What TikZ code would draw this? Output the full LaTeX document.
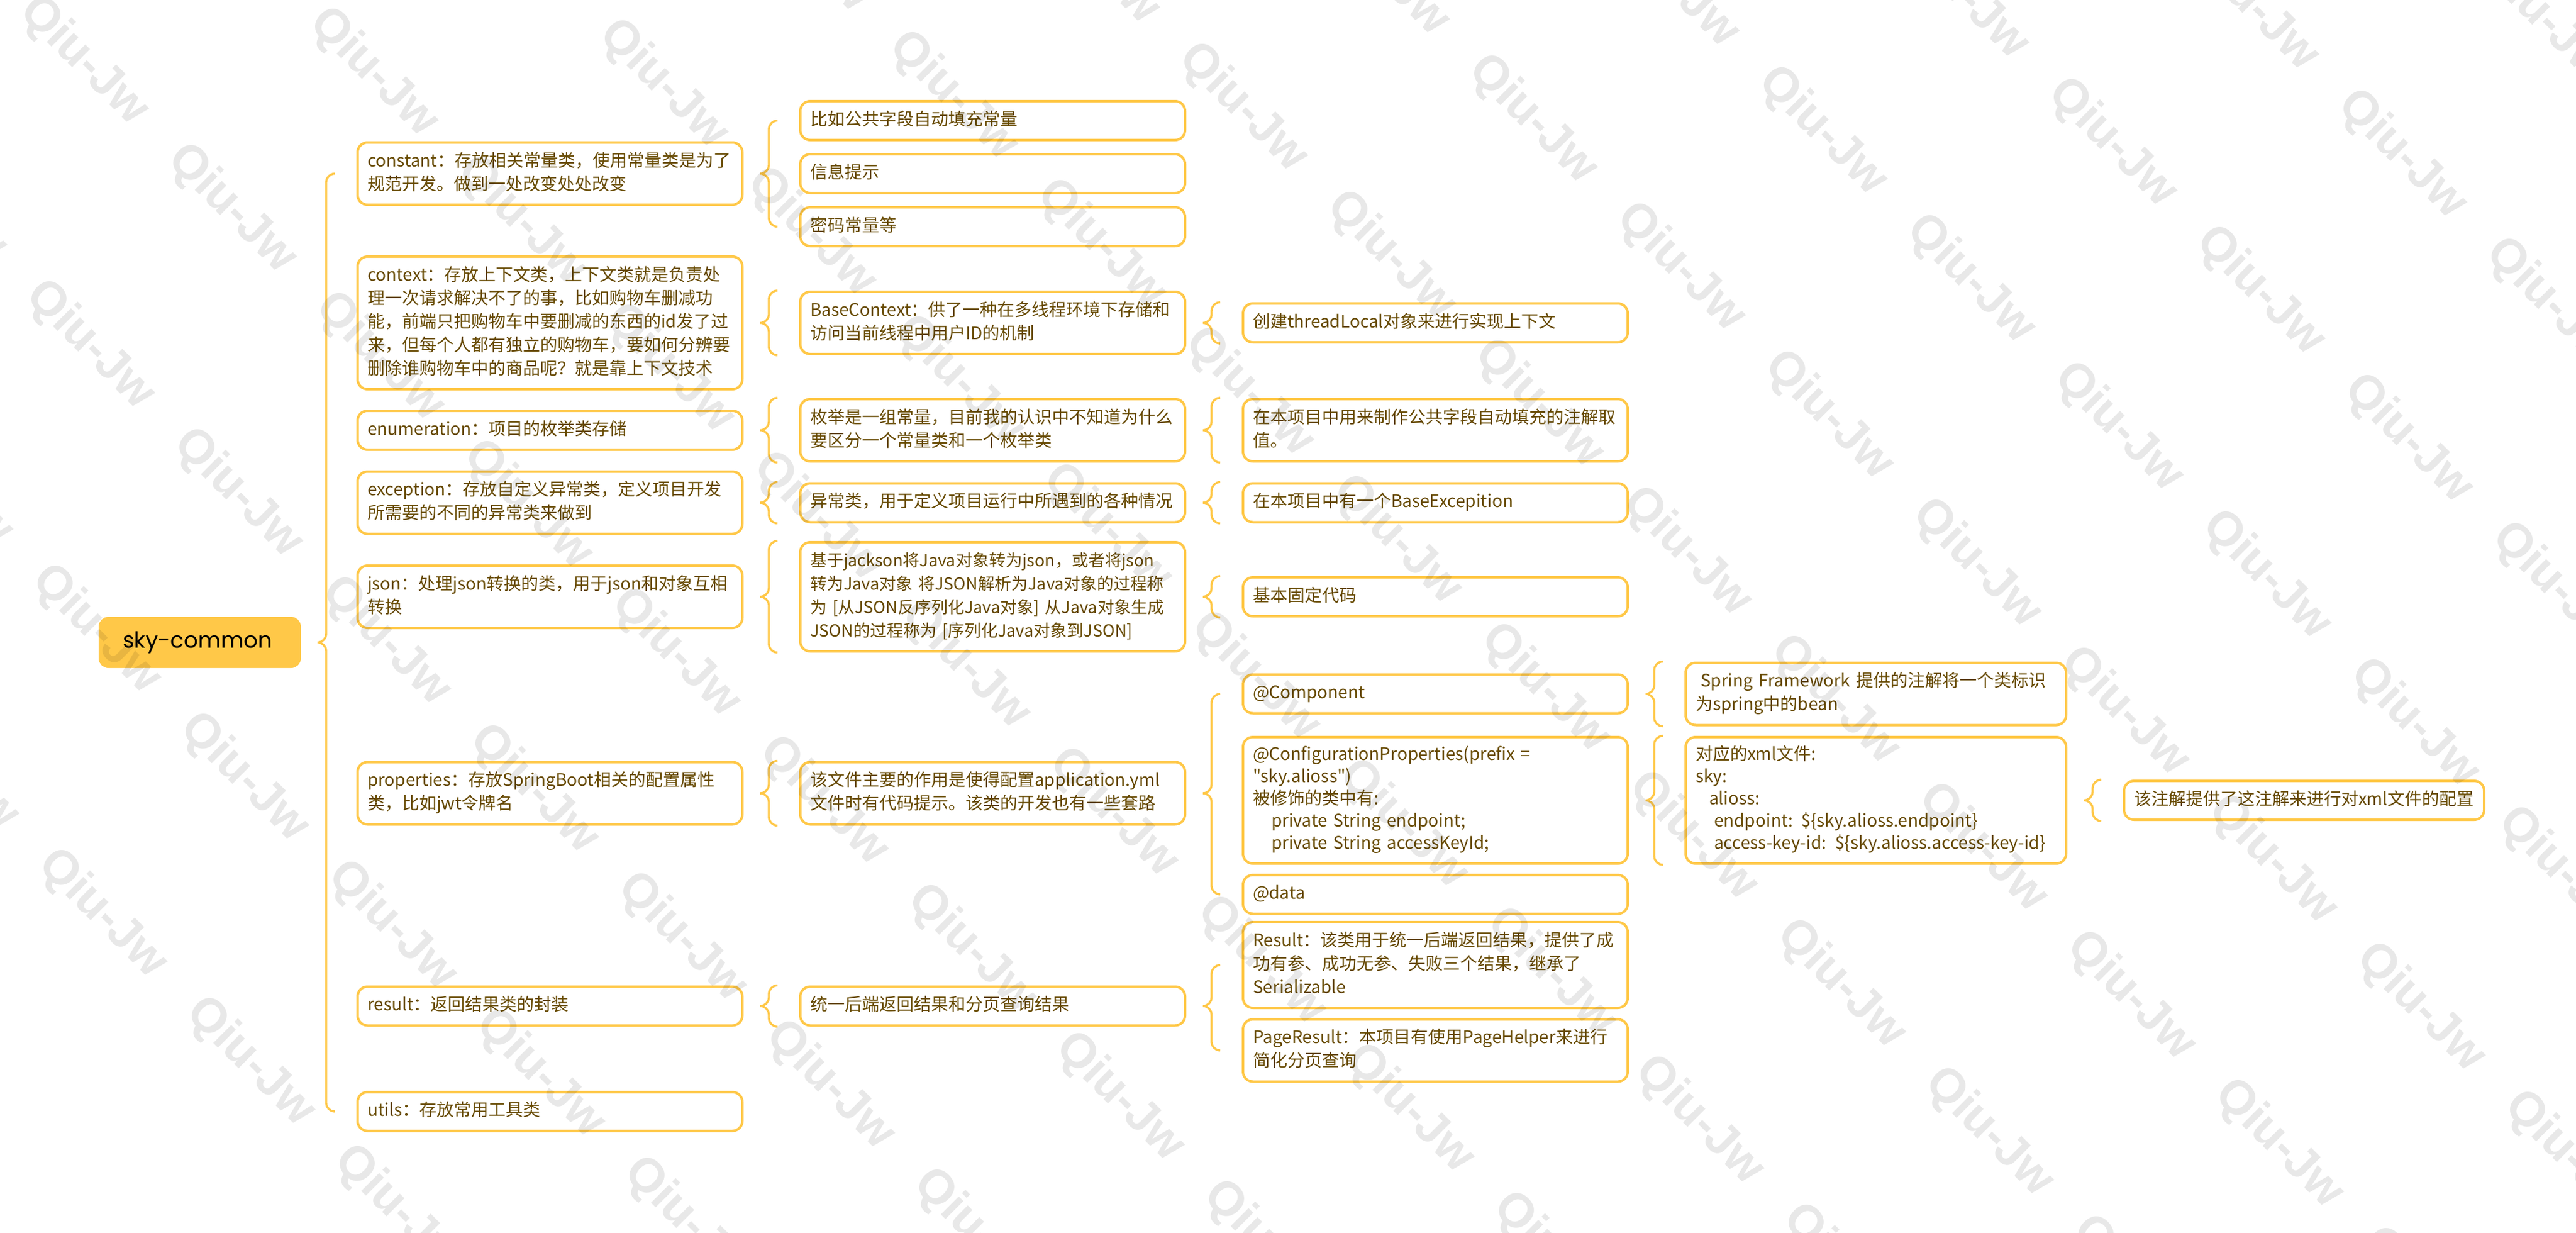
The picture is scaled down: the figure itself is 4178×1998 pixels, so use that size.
\documentclass[tikz,border=0pt]{standalone}
\usepackage{fontspec}
\setmainfont{Noto Sans CJK SC}[Ligatures=TeXOff]
\newfontfamily\rootfont{Poppins}
\newfontfamily\markfont{Liberation Sans}
\usetikzlibrary{positioning, calc}

\definecolor{mmgold}{RGB}{255,200,72}
\definecolor{mmbrown}{RGB}{102,73,0}

\hyphenpenalty=10000
\exhyphenpenalty=10000

% curly bracket from a parent to its children
\newcommand{\bracelink}[3]{%
  \draw[link] let \p1=(#1.east), \p2=(#2), \p3=(#3) in
    ({\x1+27.5pt},\y2) to[out=180,in=90] ({\x1+20.5pt},{\y2-7pt})
    -- ({\x1+20.5pt},{\y1+7pt}) to[out=-90,in=0] ({\x1+13.5pt},\y1)
    to[out=0,in=90] ({\x1+20.5pt},{\y1-7pt})
    -- ({\x1+20.5pt},{\y3+7pt}) to[out=-90,in=180] ({\x1+27.5pt},\y3);}

\begin{document}
\begin{tikzpicture}[
    x=0.5pt, y=-0.5pt,
    node distance=45pt,
    root/.style={rectangle, rounded corners=7pt, draw=mmgold, fill=mmgold, line width=2pt, text=black, font=\rootfont\fontsize{18pt}{22pt}\selectfont, text width=125pt, align=left, inner xsep=18.5pt, minimum height=39.5pt},
    topic/.style={rectangle, rounded corners=8pt, draw=mmgold, fill=white, line width=2pt, text=mmbrown, font=\fontsize{14pt}{19pt}\selectfont, text width=296pt, align=left, inner xsep=8pt, inner ysep=6.25pt, execute at begin node=\strut, execute at end node=\strut},
    topicnarrow/.style={topic, text width=292.5pt},
    topicend/.style={topic, text width=276pt},
    codebox/.style={font=\fontsize{14pt}{18pt}\selectfont},
    densebox/.style={font=\fontsize{13.5pt}{19pt}\selectfont},
    link/.style={draw=mmgold, line width=1.7pt},
    wmark/.style={font=\markfont\bfseries\fontsize{39pt}{39pt}\selectfont, rotate=-45, text=black, text opacity=0.09}
  ]
  % Canvas
  \fill[white] (0,0) rectangle (4178,1998);
  \useasboundingbox (0,0) rectangle (4178,1998);

  % Root
  \node[root] (root) at (324,1041.5) {sky-common};

  % First level
  \node[topic, right=of root, yshift=380pt] (cst) {constant：存放相关常量类，使用常量类是为了\\规范开发。做到一处改变处处改变};
  \node[topic, right=of root, yshift=259pt] (ctx) {context：存放上下文类，上下文类就是负责处\\理一次请求解决不了的事，比如购物车删减功\\能，前端只把购物车中要删减的东西的id发了过\\来，但每个人都有独立的购物车，要如何分辨要\\删除谁购物车中的商品呢？就是靠上下文技术};
  \node[topic, right=of root, yshift=172pt] (enm) {enumeration：项目的枚举类存储};
  \node[topic, right=of root, yshift=113.25pt] (exc) {exception：存放自定义异常类，定义项目开发\\所需要的不同的异常类来做到};
  \node[topic, right=of root, yshift=37pt] (jsn) {json：处理json转换的类，用于json和对象互相\\转换};
  \node[topic, right=of root, yshift=-122.25pt] (prp) {properties：存放SpringBoot相关的配置属性\\类，比如jwt令牌名};
  \node[topic, right=of root, yshift=-294.75pt] (res) {result：返回结果类的封装};
  \node[topic, right=of root, yshift=-380.25pt] (utl) {utils：存放常用工具类};

  % Second level
  \node[topic, right=of cst, yshift=43pt] (cst1) {比如公共字段自动填充常量};
  \node[topic, right=of cst] (cst2) {信息提示};
  \node[topic, right=of cst, yshift=-43pt] (cst3) {密码常量等};
  \node[topic, right=of ctx] (ctx1) {BaseContext：供了一种在多线程环境下存储和\\访问当前线程中用户ID的机制};
  \node[topic, right=of enm] (enm1) {枚举是一组常量，目前我的认识中不知道为什么\\要区分一个常量类和一个枚举类};
  \node[topic, right=of exc] (exc1) {异常类，用于定义项目运行中所遇到的各种情况};
  \node[topic, densebox, right=of jsn] (jsn1) {基于jackson将Java对象转为json，或者将json\\转为Java对象~将JSON解析为Java对象的过程称\\为~[从JSON反序列化Java对象]~从Java对象生成\\JSON的过程称为~[序列化Java对象到JSON]};
  \node[topic, right=of prp] (prp1) {该文件主要的作用是使得配置application.yml\\文件时有代码提示。该类的开发也有一些套路};
  \node[topic, right=of res] (res1) {统一后端返回结果和分页查询结果};

  % Third level
  \node[topic, right=of ctx1] (ctx2) {创建threadLocal对象来进行实现上下文};
  \node[topic, right=of enm1] (enm2) {在本项目中用来制作公共字段自动填充的注解取\\值。};
  \node[topic, right=of exc1] (exc2) {在本项目中有一个BaseExcepition};
  \node[topic, right=of jsn1] (jsn2) {基本固定代码};
  \node[topic, right=of prp1, yshift=80.5pt] (comp) {@Component};
  \node[topic, codebox, right=of prp1, yshift=-5.75pt] (conf) {@ConfigurationProperties(prefix~=\\"sky.alioss")\\被修饰的类中有:\\\hspace*{15pt}private String endpoint;\\\hspace*{15pt}private String accessKeyId;};
  \node[topic, right=of prp1, yshift=-82pt] (dat) {@data};
  \node[topic, right=of res1, yshift=33.25pt] (rs1) {Result：该类用于统一后端返回结果，提供了成\\功有参、成功无参、失败三个结果，继承了\\Serializable};
  \node[topic, right=of res1, yshift=-36pt] (rs2) {PageResult：本项目有使用PageHelper来进行\\简化分页查询};

  % Fourth and fifth level
  \node[topicnarrow, right=of comp] (spr) {\hspace*{4pt}Spring Framework 提供的注解将一个类标识\\为spring中的bean};
  \node[topicnarrow, codebox, right=of conf] (xml) {对应的xml文件:\\sky:\\\hspace*{11pt}alioss:\\\hspace*{15pt}endpoint: \$\{sky.alioss.endpoint\}\\\hspace*{15pt}access-key-id: \$\{sky.alioss.access-key-id\}};
  \node[topicend, right=of xml] (ann) {该注解提供了这注解来进行对xml文件的配置};

  % Brackets
  \bracelink{root}{cst.west}{utl.west}
  \bracelink{cst}{cst1.west}{cst3.west}
  \bracelink{ctx}{ctx1.north west}{ctx1.south west}
  \bracelink{enm}{enm1.north west}{enm1.south west}
  \bracelink{exc}{exc1.north west}{exc1.south west}
  \bracelink{jsn}{jsn1.north west}{jsn1.south west}
  \bracelink{prp}{prp1.north west}{prp1.south west}
  \bracelink{res}{res1.north west}{res1.south west}
  \bracelink{ctx1}{ctx2.north west}{ctx2.south west}
  \bracelink{enm1}{enm2.north west}{enm2.south west}
  \bracelink{exc1}{exc2.north west}{exc2.south west}
  \bracelink{jsn1}{jsn2.north west}{jsn2.south west}
  \bracelink{prp1}{comp.west}{dat.west}
  \bracelink{res1}{rs1.west}{rs2.west}
  \bracelink{comp}{spr.north west}{spr.south west}
  \bracelink{conf}{xml.north west}{xml.south west}
  \bracelink{xml}{ann.north west}{ann.south west}

  % Watermark
  \begin{scope}
    \clip (0,0) rectangle (4178,1998);
    \foreach \i in {-3,...,9}
      \foreach \j in {-1,...,8} {
        \pgfmathsetmacro\wx{136+470*\i+240*\j}
        \pgfmathsetmacro\wy{99+19*\i+240*\j}
        \pgfmathparse{and(and(\wx>-150,\wx<4330),and(\wy>-150,\wy<2150))}
        \ifdim\pgfmathresult pt>0.5pt
          \node[wmark] at (\wx,\wy) {Qiu-Jw};
        \fi
      }
  \end{scope}
\end{tikzpicture}
\end{document}
